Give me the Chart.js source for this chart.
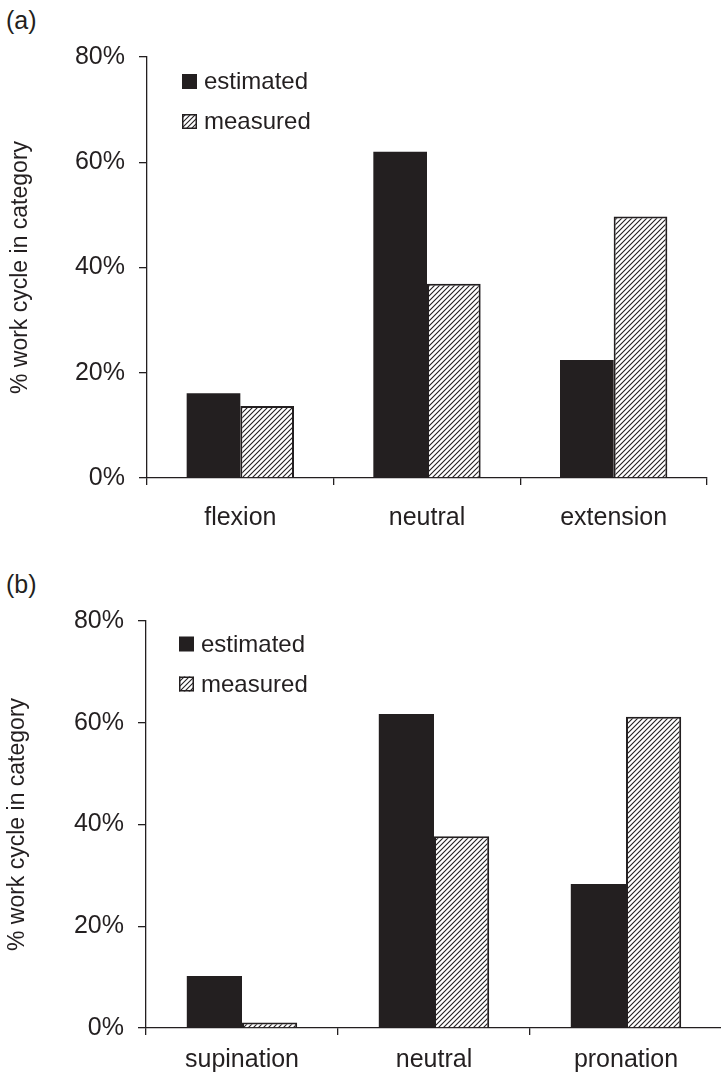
<!DOCTYPE html>
<html>
<head>
<meta charset="utf-8">
<script src="https://cdn.jsdelivr.net/npm/chart.js@4.4.1/dist/chart.umd.min.js"></script>
<style>
  html, body { margin: 0; padding: 0; background: #fff; overflow: hidden; }
  body { width: 721px; height: 1082px; position: relative; font-family: "Liberation Sans", Arial, sans-serif; color: #231f20; }
  .panel { position: absolute; left: 0; }
  .tag { position: absolute; left: 6px; font-size: 25px; line-height: 25px; }
</style>
</head>
<body>
<div class="tag" style="top:8px">(a)</div>
<div class="tag" style="top:572px">(b)</div>
<div class="panel" style="top:0"><canvas id="chartA" width="721" height="541"></canvas></div>
<div class="panel" style="top:541px"><canvas id="chartB" width="724" height="541"></canvas></div>
<script>
// Data
const seriesNames = ['estimated', 'measured'];
const categoriesA = ['flexion', 'neutral', 'extension'];
const estimatedA = [16.1, 62.0, 22.4];
const measuredA = [13.7, 36.9, 49.7];
const categoriesB = ['supination', 'neutral', 'pronation'];
const estimatedB = [10.2, 61.7, 28.3];
const measuredB = [1.1, 37.7, 61.2];
const yTicks = [0, 20, 40, 60, 80];
const yTitle = '% work cycle in category';

const ink = '#231f20';
const fontFamily = '"Liberation Sans", Arial, sans-serif';

// Diagonal hatch for the "measured" bars
function hatchPattern() {
  const c = document.createElement('canvas');
  c.width = 5; c.height = 5;
  const g = c.getContext('2d');
  g.fillStyle = '#fff';
  g.fillRect(0, 0, 5, 5);
  g.strokeStyle = ink;
  g.lineWidth = 1.1;
  g.beginPath();
  g.moveTo(-1, 6); g.lineTo(6, -1);
  g.moveTo(-1, 1); g.lineTo(1, -1);
  g.moveTo(4, 6); g.lineTo(6, 4);
  g.stroke();
  return g.createPattern(c, 'repeat');
}
const hatch = hatchPattern();

// Legend drawn inside the plot area, top left
const insideLegend = {
  id: 'insideLegend',
  afterDraw(chart, args, opts) {
    const ctx = chart.ctx;
    const area = chart.chartArea;
    ctx.save();
    ctx.font = '24px ' + fontFamily;
    ctx.textBaseline = 'middle';
    ctx.fillStyle = ink;
    chart.data.datasets.forEach((ds, i) => {
      const x = area.left + opts.dx;
      const cy = area.top + opts.dy + i * opts.gap;
      ctx.fillStyle = ds.backgroundColor;
      ctx.fillRect(x, cy - 7.5, 15, 15);
      if (ds.borderWidth) {
        ctx.strokeStyle = ink;
        ctx.lineWidth = 1.5;
        ctx.strokeRect(x + 0.75, cy - 6.75, 13.5, 13.5);
      }
      ctx.fillStyle = ink;
      ctx.fillText(ds.label, x + 22, cy + 1);
    });
    ctx.restore();
  }
};

function makeChart(id, labels, est, meas, box) {
  return new Chart(document.getElementById(id), {
    type: 'bar',
    data: {
      labels: labels,
      datasets: [
        { label: seriesNames[0], data: est, backgroundColor: ink, borderWidth: 0 },
        { label: seriesNames[1], data: meas, backgroundColor: hatch, borderColor: ink, borderWidth: 2 }
      ]
    },
    options: {
      responsive: false,
      devicePixelRatio: 1,
      animation: false,
      categoryPercentage: 0.575,
      barPercentage: 1.0,
      layout: { padding: { top: box.top, right: box.right, left: 0, bottom: 0 } },
      plugins: {
        legend: { display: false },
        tooltip: { enabled: false },
        insideLegend: { dx: box.legX, dy: box.legY, gap: 40 }
      },
      scales: {
        x: {
          grid: { display: true, offset: true, drawOnChartArea: false, color: ink, tickLength: 7, lineWidth: 1.3 },
          border: { display: true, color: ink, width: 1.3 },
          ticks: { color: ink, padding: box.xPad, font: { family: fontFamily, size: 25 } },
          afterFit: s => { s.height = box.xHeight; }
        },
        y: {
          min: yTicks[0],
          max: yTicks[yTicks.length - 1],
          afterBuildTicks: s => { s.ticks = yTicks.map(v => ({ value: v })); },
          grid: { drawOnChartArea: false, color: ink, tickLength: 8, lineWidth: 1.3 },
          border: { display: true, color: ink, width: 1.3 },
          ticks: { color: ink, padding: 14, font: { family: fontFamily, size: 25 }, callback: v => v + '%' },
          title: { display: true, text: yTitle, color: ink, padding: { top: box.titlePad, bottom: 0 }, font: { family: fontFamily, size: 23 } },
          afterFit: s => { s.width = box.left; }
        }
      }
    },
    plugins: [insideLegend]
  });
}

makeChart('chartA', categoriesA, estimatedA, measuredA,
  { top: 57, right: 14, left: 147, xHeight: 63, xPad: 18, titlePad: 7, legX: 35, legY: 24.5 });
makeChart('chartB', categoriesB, estimatedB, measuredB,
  { top: 80, right: 2, left: 146, xHeight: 54, xPad: 10, titlePad: 4, legX: 33, legY: 23 });
</script>
</body>
</html>
